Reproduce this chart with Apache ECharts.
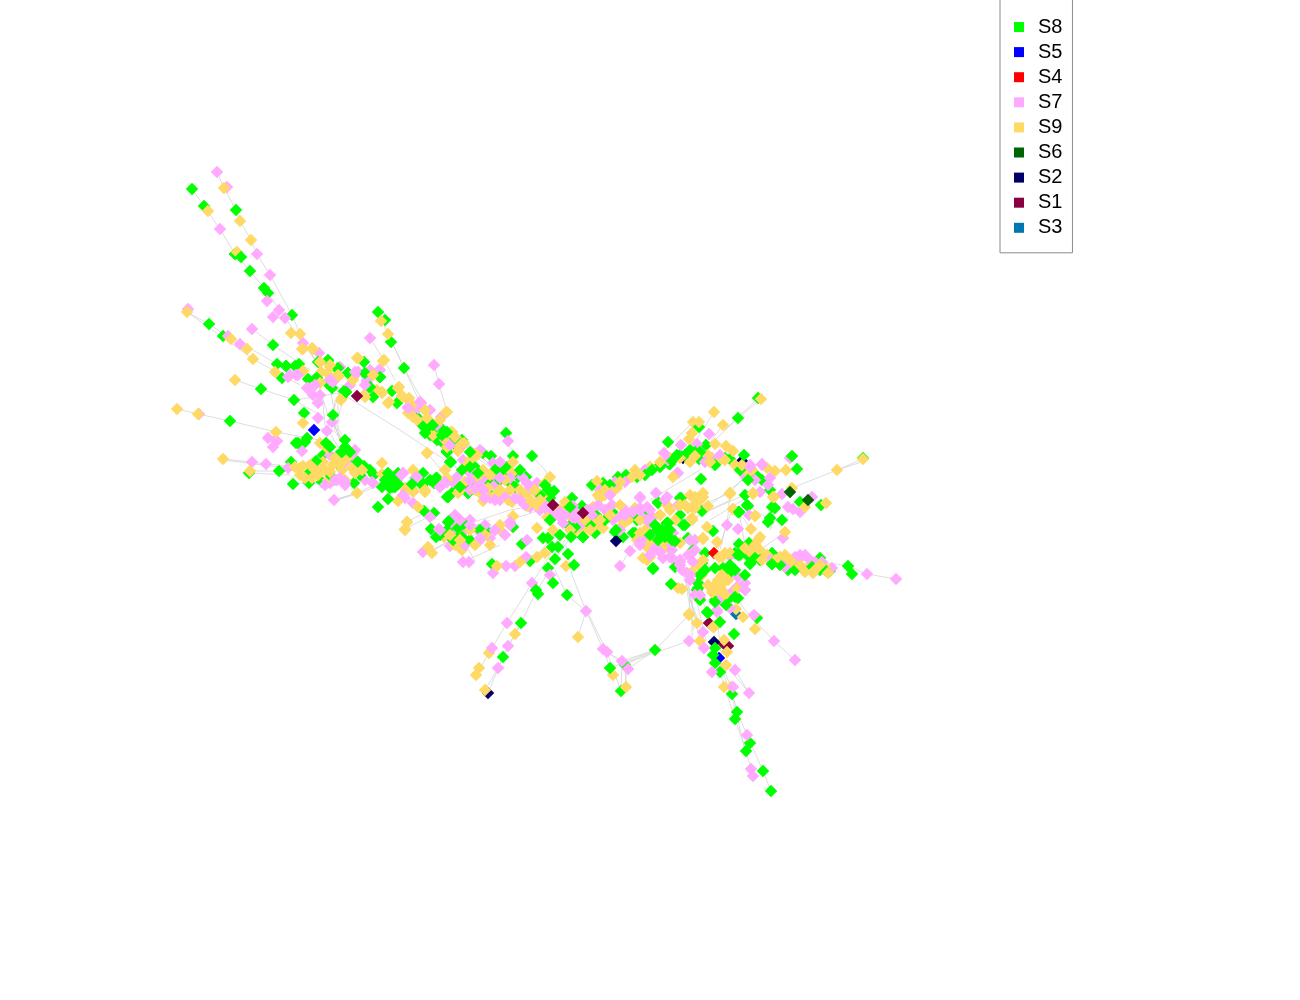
<!DOCTYPE html>
<html><head><meta charset="utf-8">
<style>html,body{margin:0;padding:0;background:#fff}#c{width:1300px;height:1000px}</style>
<script src="https://cdn.jsdelivr.net/npm/echarts@6/dist/echarts.min.js"></script>
</head><body><div id="c"></div>
<script>
// Node positions (x, y flat pairs).
const legendOrder=['S8','S5','S4','S7','S9','S6','S2','S1','S3'];
const S8_back=[236,210,235,254,273,345,277,364,286,366,295,366,299,364,282,378,308,379,315,379,328,361,337,369,348,373,365,374,380,377,369,387,344,391,332,388,327,383,292,315,264,288,268,293,
 305,442,296,443,323,455,337,463,356,461,364,466,354,483,322,482,309,483,310,472,291,462,374,475,382,487,389,480,393,487,423,473,423,484,436,478,447,497,457,488,424,511,434,513,431,529,436,537,448,522,452,533,453,527,458,539,
 392,391,417,417,397,403,427,420,422,425,440,427,427,428,430,435,462,440,458,448,425,425,432,432,437,440,447,451,451,462,
 437,478,434,483,448,497,453,492,468,493,473,482,422,485,398,473,447,452,443,443,450,462,447,452,483,453,491,456,475,467,472,481,468,493,448,497,492,496,490,483,511,484,505,472,507,467,518,477,526,477,
 572,498,566,509,569,526,582,506,596,515,587,520,595,533,583,537,612,512,615,532,623,537,630,518,637,520,633,533,658,503,667,523,657,530,670,535,653,568,675,567,
 648,512,660,533,667,537,635,533,660,545,630,518,612,512,667,523,685,525,680,498,658,502,702,511,713,531,739,512,748,506,738,512,745,495,
 735,553,747,555,750,563,772,553,772,564,788,570,803,569,797,558,820,558,820,570,830,571,739,544,749,543,693,550,705,553,702,563,723,568,732,570,697,590,715,600,725,597,727,605,707,612,728,575,698,583,698,588,730,598,738,598,
 660,465,670,464,680,455,690,450,706,445,699,459,725,458,730,459,757,476,762,480,770,490,772,507,775,508,770,518,768,522,782,520,800,502,821,505,
 758,398,863,458,681,498,683,525,668,533,680,515,688,538,
 513,456,500,470,550,498,543,538,548,538,552,547,558,547,555,559,548,568,530,561,492,564,487,531,513,527,522,544,
 235,254,249,473,223,336,204,206,592,485,603,483,618,477,626,475,637,477,660,467,669,464,621,691];
const S7_back=[227,187,279,310,273,317,285,318,188,309,228,336,303,343,319,353,288,377,296,375,307,388,333,379,340,367,358,372,367,380,379,370,313,395,318,403,332,422,318,418,327,431,275,440,
 268,438,277,441,273,447,302,451,288,468,330,483,337,480,330,455,352,455,365,480,373,483,405,498,403,473,417,477,440,487,453,482,413,503,430,517,439,529,454,517,423,552,450,546,
 421,403,413,410,425,410,420,402,408,407,430,410,418,408,445,440,447,442,441,417,
 440,487,477,490,470,473,457,477,403,473,397,480,463,445,472,453,480,450,463,460,457,440,447,482,475,473,483,478,498,479,500,462,493,463,490,498,500,500,522,477,527,483,537,483,537,493,530,507,540,510,553,512,560,517,563,523,573,506,587,510,
 610,490,625,482,647,472,677,473,620,517,640,498,647,520,656,493,667,497,613,520,640,497,643,518,653,517,653,538,673,533,678,505,695,540,672,558,680,560,693,562,663,558,670,557,647,507,650,523,667,527,647,537,670,557,687,573,700,598,717,610,738,577,732,592,727,525,738,529,749,515,
 782,563,795,557,805,555,797,568,815,562,832,568,681,445,697,444,709,434,712,458,742,468,745,476,768,485,760,492,762,464,678,473,782,494,812,497,788,507,800,512,793,509,783,538,
 526,557,515,566,506,566,493,573,463,562,469,562,490,538,527,540,532,583,550,575,
 730,556,745,583,737,587,717,612,704,648];
const S9_back=[224,188,240,221,251,240,237,252,291,333,300,334,303,349,313,349,320,362,321,372,330,367,303,371,275,372,320,382,339,376,353,378,373,374,364,395,342,398,382,393,377,390,399,387,402,396,409,398,
 295,467,303,466,305,478,321,468,323,462,328,480,320,443,327,448,333,465,342,470,352,468,347,458,345,480,357,493,382,463,382,474,398,501,405,488,413,470,413,492,425,492,445,470,447,480,458,493,418,507,407,522,405,530,444,537,428,547,432,553,455,545,427,453,446,412,
 388,403,398,388,402,396,412,405,413,417,433,435,447,412,451,432,460,442,447,447,408,400,389,402,408,413,417,420,427,418,452,432,457,445,
 413,490,405,489,425,490,460,490,465,482,477,478,447,478,458,451,470,460,477,455,447,442,445,470,465,467,483,470,460,490,480,493,483,501,512,473,513,462,475,454,464,443,451,432,
 528,493,522,495,543,495,544,484,550,477,508,500,512,502,527,506,537,505,547,517,513,516,502,532,537,528,553,530,545,553,537,557,520,562,497,566,462,550,566,566,
 569,515,565,502,583,531,576,530,594,524,593,507,597,481,600,498,605,495,617,488,632,477,650,467,673,477,603,528,635,508,640,533,660,515,643,558,650,557,667,547,678,588,
 622,525,595,525,637,540,650,543,647,560,680,543,692,520,688,508,695,508,695,498,703,493,703,539,717,542,703,560,700,567,692,572,722,557,717,587,723,583,713,593,720,593,689,614,707,527,
 730,553,750,552,760,553,758,540,767,555,751,529,755,516,733,509,730,494,753,493,773,497,760,537,725,553,753,553,780,557,792,563,810,565,813,573,825,567,760,550,
 714,412,693,422,723,425,692,433,689,439,670,458,650,467,708,455,715,444,726,446,733,451,718,462,735,465,748,472,767,468,775,471,786,470,837,470,792,488,774,497,805,507,826,503,785,532,
 730,493,753,494,733,509,755,516,660,515,667,505,685,505,692,507,695,497,703,497,708,506,697,500,692,518,703,538,647,547,665,545,
 578,637,515,634,489,653,479,668,476,675,485,690,613,675,626,687,689,615,697,623,714,627,700,641,727,652,726,665,724,687,731,687,755,629,743,617,736,609,682,589,717,590,737,589,702,575,713,627,719,557,724,640];
const S7_extra=[290,375,298,375,308,388,358,372,370,370,380,370,367,382,333,382,350,385,
 325,485,340,478,345,485,355,450,345,462,
 625,510,633,512,640,508,650,510,620,530,690,540,695,550,680,565,688,555,672,550,660,552,650,555,640,545,655,548,682,570,
 690,580,695,595,730,608,745,590,720,600,770,560,785,567,800,558,810,560,822,562,
 668,460,705,462,720,455,750,465,755,480,770,478,
 480,485,510,478,530,487,515,498,525,505,545,505,505,495,495,485,470,490,485,498,
 460,520,470,520,478,530,465,530,485,525,455,528,495,530,505,535,510,525,480,540,465,545,
 565,515,575,520,580,525,555,515,592,515,575,512,605,510,612,505,598,505,600,490,615,482,645,470,437,425,450,445];
const S8_extra=[286,366,317,378,318,362,328,360,338,368,348,373,364,362,365,373,380,377,346,392,370,387,373,397,
 316,461,330,447,338,455,345,440,350,452,340,460,358,462,370,470,360,475,330,475,
 705,570,700,600,735,570,745,575,730,565,740,555,700,575,715,568,760,560,780,565,795,570,812,567,825,570,738,555,755,558,
 652,470,672,461,685,455,695,452,700,452,715,465,740,470,748,480,
 478,473,500,480,515,487,540,495,548,490,545,485,520,470,462,470,470,467,495,470,
 450,520,458,528,465,525,440,535,470,540,480,530,447,530,453,540,462,537,
 575,527,560,535,590,525,605,520,570,507,550,520,610,485,645,475,433,425,425,433,442,435,447,432,455,438,470,452];
const S9_extra=[302,349,312,348,320,362,330,365,327,373,320,383,338,375,353,380,357,358,383,361,373,375,365,397,341,400,382,392,
 300,468,310,465,315,470,325,470,318,475,330,472,340,465,335,458,345,460,355,473,362,470,300,475,312,478,
 620,505,628,520,645,530,640,520,675,520,680,505,690,495,700,500,670,510,
 715,585,722,590,728,580,718,580,712,592,725,595,722,575,708,585,
 745,548,755,545,762,560,775,560,785,555,790,560,800,565,805,572,815,570,820,565,828,573,
 660,462,680,458,695,456,710,462,725,460,742,465,752,470,690,462,
 490,475,505,480,520,490,535,490,495,495,475,490,470,480,510,490,488,488,530,500,540,500,500,490,
 470,530,460,540,485,535,490,545,475,545,450,535,500,525,
 560,510,570,530,585,520,590,530,600,520,610,515,605,490,612,492,620,482,640,475,598,495,635,470,425,410,440,420,455,437];
const S7_top=[372,482,403,495,398,478,415,478,445,482,470,480,483,490,500,478,495,500,520,500,545,508,560,512,575,518,590,510,610,495,625,515,640,510,650,520,690,555,672,545,680,562,660,552,640,542,665,500,700,595,690,575,745,590,750,467,762,465,790,458,800,555,320,395,315,385,330,380,355,372,365,385,420,402,408,408,345,482,335,480,460,520,470,525,495,530,510,522,480,538,440,530,455,515,475,488];
const S8_front=[192,189,209,324,250,271,241,257,261,389,294,400,230,421,404,368,378,312,385,320,391,342,304,413,333,415,346,392,326,443,307,438,298,443,
 293,484,279,471,342,452,345,447,378,507,388,499,389,482,395,487,385,480,392,478,390,488,398,484,388,473,
 506,433,532,456,554,491,571,537,583,537,568,554,574,565,567,595,536,590,538,594,553,583,
 668,442,677,455,738,418,699,427,744,455,792,456,797,469,848,566,852,574,
 653,569,671,584,701,479,739,512,747,505,
 521,623,503,657,610,668,625,665,655,650,720,622,734,634,715,648,713,655,715,663,720,672,757,618,737,712,735,719,750,743,746,751,763,771,771,791,732,694,
 715,602,708,613,726,605,735,597,750,564,772,564,616,530,665,531,675,541,460,487,430,480,412,484,
 655,525,662,530,670,530,665,537,658,540,672,540,650,535,668,523];
const S7_front=[217,172,220,229,257,254,270,275,267,301,252,329,240,344,370,338,434,365,439,384,334,500,199,414,252,462,266,464,
 508,441,620,566,630,551,586,611,867,574,896,579,774,641,795,660,754,615,664,453,
 507,623,508,646,492,648,498,668,603,649,607,652,622,661,628,669,689,641,703,632,704,648,712,672,735,670,733,687,749,693,747,735,751,769,753,776];
const S9_front=[177,409,198,414,187,312,208,211,231,339,247,349,253,359,235,380,276,432,303,423,223,459,250,471,384,360,388,334,381,321,358,358,427,453,405,529,407,522,357,493,
 761,399,863,459,699,422,730,493];
const S5=[314,430,719,658];
const S4=[714,553];
const S6=[790,492,808,500];
const S6_under=[470,488];
const S2=[616,541,714,642];
const S2_under=[488,693,683,458,742,461];
const S1=[357,396,553,505,583,513];
const S1_under=[709,623,724,644,728,646];
const S3=[736,614];

const edgeRoutes=[
 [[217,172],[224,188],[236,210],[240,221],[251,240],[257,254],[270,275],[292,315],[300,334]],
 [[192,189],[204,206],[220,229],[235,254],[250,271],[264,288],[280,310],[295,332],[315,360]],
 [[187,312],[209,324],[231,339],[253,350],[277,364],[305,375],[330,388]],
 [[187,312],[253,359],[300,385]],[[252,329],[273,345],[310,370]],
 [[235,380],[261,389],[294,400],[320,415]],[[177,409],[198,414],[230,421],[276,432],[320,440]],
 [[223,459],[252,462],[266,464],[291,466]],[[223,460],[270,466],[300,468]],[[250,471],[279,471],[300,470]],[[250,473],[290,475]],
 [[334,500],[357,493],[385,480]],[[334,501],[357,494],[386,483]],[[293,484],[330,480]],
 [[378,312],[392,342],[404,368],[420,403]],[[388,334],[404,368],[425,405]],[[370,338],[384,360],[395,380]],
 [[434,365],[439,384],[447,412]],[[335,400],[333,420],[340,440],[360,460]],[[320,390],[328,415],[345,445]],[[340,392],[330,420],[350,450]],[[330,385],[336,425],[355,455]],[[322,395],[325,425],[340,450]],
 [[345,395],[334,430],[350,455]],[[338,395],[338,435],[358,462]],[[300,340],[345,395]],[[305,345],[342,398]],[[320,430],[340,420]],[[295,400],[345,392]],
 [[506,433],[513,456]],[[532,456],[545,470],[553,490]],[[427,453],[450,480]],[[451,462],[480,495]],
 [[485,690],[498,668],[508,646],[521,623],[536,592],[553,565],[565,540]],
 [[476,675],[489,653],[507,623],[532,583],[550,555],[562,530]],[[488,693],[503,657],[521,623]],
 [[586,611],[572,575],[566,545]],[[586,611],[567,595],[555,570]],[[578,637],[586,611]],[[586,611],[603,649],[610,668]],[[587,611],[607,652],[622,661]],
 [[603,649],[625,665],[626,687]],[[607,652],[621,691]],[[626,665],[626,687]],[[622,665],[621,691]],
 [[655,650],[625,665]],[[655,650],[610,668]],[[655,650],[622,661]],[[655,650],[628,669]],[[689,615],[655,650]],[[689,641],[628,662]],
 [[689,615],[690,590],[680,570]],[[697,623],[685,580]],[[703,632],[690,600]],[[714,627],[695,585]],[[692,640],[692,590]],[[700,641],[688,585]],[[694,630],[686,585]],[[706,640],[694,590]],
 [[719,658],[731,687],[737,712],[747,735],[763,771],[771,791]],[[720,672],[735,719],[746,751],[751,769]],[[726,665],[749,693]],[[735,670],[749,693]],[[715,602],[722,660]],[[722,670],[733,700],[745,750]],
 [[795,660],[774,641],[745,610],[730,590]],[[868,460],[837,470],[792,488]],[[863,459],[837,470]],[[896,579],[867,574],[848,566],[810,560]],
 [[761,399],[738,418],[715,440]],[[758,398],[725,430]],[[714,412],[690,450]],[[693,422],[665,450]],[[723,425],[700,455]],
 [[730,493],[690,510]],[[744,495],[700,515]],[[753,494],[710,520]],[[745,476],[730,493],[727,525],[716,555]],[[747,505],[770,520]],[[785,532],[760,550]],[[775,520],[765,480]],[[768,485],[775,520],[770,530]],[[690,520],[730,500]],[[733,509],[726,525],[720,550]],[[751,529],[739,512],[745,545]],[[702,511],[745,478]],
 [[430,552],[470,530]],[[453,545],[495,525],[540,510]],[[463,562],[500,545]],[[405,529],[432,515]],[[407,522],[430,510]],[[492,564],[530,562],[560,530]],[[540,505],[510,510],[450,530]],[[432,550],[490,520]],
 [[620,566],[630,551],[640,530]],[[475,561],[463,540]],[[506,566],[540,553]],[[450,430],[480,460],[530,495],[560,510]],[[320,380],[400,430],[460,470]],[[465,440],[500,475]],[[470,450],[520,485]],
 [[357,493],[334,500]],[[590,520],[640,515]],[[650,500],[700,470]],[[555,560],[575,530]]];

const pairs=a=>{const o=[];for(let i=0;i<a.length;i+=2)o.push([a[i],a[i+1]]);return o;};
const colors={S8:'#00ff00',S5:'#0000ff',S4:'#ff0000',S7:'#ffaaff',S9:'#ffd966',S6:'#006400',S2:'#000066',S1:'#8b0040',S3:'#0077b3'};
const scatter=(name,arr,z)=>({name,type:'scatter',data:pairs(arr),symbol:'diamond',symbolSize:12.5,z,silent:true,
 itemStyle:{color:colors[name],opacity:1},emphasis:{disabled:true}});
const chart=echarts.init(document.getElementById('c'),null,{renderer:'canvas'});
chart.setOption({
 animation:false,backgroundColor:'#fff',
 grid:{left:0,right:0,top:0,bottom:0},
 xAxis:{type:'value',min:0,max:1300,show:false},
 yAxis:{type:'value',min:0,max:1000,inverse:true,show:false},
 legend:{data:legendOrder.map(n=>({name:n,icon:'rect'})),orient:'vertical',left:1000,top:-1,
  padding:[18,10,15,14],itemWidth:10,itemHeight:10,itemGap:5.1,borderColor:'#8a8a8a',borderWidth:1,selectedMode:false,
  textStyle:{fontFamily:'Liberation Sans',fontSize:20,color:'#000',padding:[0,0,0,9]}},
 series:[
  {type:'lines',coordinateSystem:'cartesian2d',polyline:true,silent:true,z:1,
   lineStyle:{color:'#d4d4d4',width:1,opacity:0.8},data:edgeRoutes.map(r=>({coords:r}))},
  scatter('S8',S8_back,2),scatter('S7',S7_back,2.1),
  scatter('S6',S6_under,2.2),scatter('S2',S2_under,2.2),scatter('S1',S1_under,2.2),scatter('S3',S3,2.2),scatter('S4',S4,2.2),
  scatter('S9',S9_back,2.3),
  scatter('S7',S7_extra,2.4),scatter('S8',S8_extra,2.5),scatter('S9',S9_extra,2.6),scatter('S7',S7_top,2.7),
  scatter('S6',S6,5),scatter('S2',S2,5),scatter('S1',S1,5),scatter('S5',S5,5),
  scatter('S8',S8_front,6),scatter('S7',S7_front,6),scatter('S9',S9_front,7)
 ]
});
</script></body></html>
